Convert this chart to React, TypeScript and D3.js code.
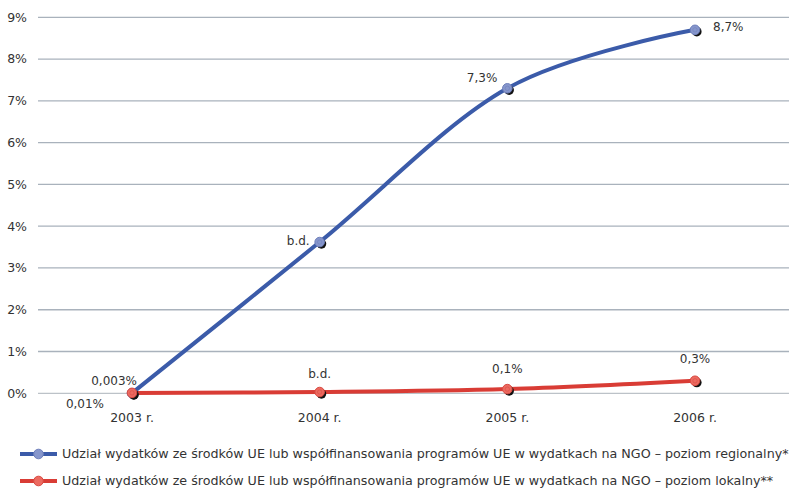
import React from "react";
import * as d3 from "d3";

const years = ["2003 r.", "2004 r.", "2005 r.", "2006 r."];
const regionalValues = [0.003, 3.62, 7.3, 8.7];
const localValues = [0.01, 0.03, 0.1, 0.3];
const regionalLabels = ["0,003%", "b.d.", "7,3%", "8,7%"];
const localLabels = ["0,01%", "b.d.", "0,1%", "0,3%"];
const yTicks = [0, 1, 2, 3, 4, 5, 6, 7, 8, 9];
const seriesNames = [
  "Udział wydatków ze środków UE lub współfinansowania programów UE w wydatkach na NGO – poziom regionalny*",
  "Udział wydatków ze środków UE lub współfinansowania programów UE w wydatkach na NGO – poziom lokalny**",
];

const W = 793;
const H = 488;
const FONT = "'DejaVu Sans', Verdana, sans-serif";
const BLUE = "#3b5ba9";
const BLUE_LIGHT = "#8696cc";
const RED = "#d93c35";
const RED_LIGHT = "#ec6a60";
const TEXT = "#333";

export default function App() {
  const x = d3.scalePoint<string>().domain(years).range([132, 695]);
  const y = d3.scaleLinear().domain([0, 9]).range([393.3, 17.3]);

  const line = d3
    .line<number>()
    .x((_, i) => x(years[i]) as number)
    .y((d) => y(d))
    .curve(d3.curveCatmullRom.alpha(0));

  // label offsets relative to each point: [dx, dy, anchor]
  const regionalOffsets: [number, number, string][] = [
    [5, -8, "end"],
    [-10, 3, "end"],
    [-10, -6, "end"],
    [18, 1, "start"],
  ];
  const localOffsets: [number, number, string][] = [
    [-28, 15, "end"],
    [0, -14, "middle"],
    [0, -16, "middle"],
    [0, -18, "middle"],
  ];

  const marker = (cx: number, cy: number, fill: string, ring: string, key: string) => (
    <g key={key}>
      <circle cx={cx + 1.8} cy={cy + 1.8} r={4.8} fill="#111" />
      <circle cx={cx} cy={cy} r={4.8} fill={fill} stroke={ring} strokeWidth={1} />
      <circle cx={cx} cy={cy} r={2.2} fill="none" stroke={ring} strokeWidth={0.8} opacity={0.7} />
    </g>
  );

  return (
    <svg
      width={W}
      height={H}
      style={{ position: "absolute", left: 0, top: 0, background: "#fff" }}
      fontFamily={FONT}
    >
      {yTicks.map((t) => (
        <g key={t}>
          <line x1={38} x2={789} y1={y(t)} y2={y(t)} stroke={t === 0 ? "#bcc2c8" : "#a9b2bc"} strokeWidth={1.3} />
          <text x={27} y={y(t)} dy="0.35em" textAnchor="end" fontSize={12.5} fill={TEXT}>
            {t}%
          </text>
        </g>
      ))}
      {years.map((yr) => (
        <text key={yr} x={x(yr)} y={422} textAnchor="middle" fontSize={12.5} fill={TEXT}>
          {yr}
        </text>
      ))}

      <path d={line(regionalValues) || ""} fill="none" stroke={BLUE} strokeWidth={4} />
      <path d={line(localValues) || ""} fill="none" stroke={RED} strokeWidth={4} />

      {regionalValues.map((v, i) => marker(x(years[i]) as number, y(v), BLUE_LIGHT, "#6f80bb", "rm" + i))}
      {localValues.map((v, i) => marker(x(years[i]) as number, y(v), RED_LIGHT, "#d84a42", "lm" + i))}

      {regionalValues.map((v, i) => (
        <text
          key={"rl" + i}
          x={(x(years[i]) as number) + regionalOffsets[i][0]}
          y={y(v) + regionalOffsets[i][1]}
          textAnchor={regionalOffsets[i][2] as any}
          fontSize={12}
          fill={TEXT}
        >
          {regionalLabels[i]}
        </text>
      ))}
      {localValues.map((v, i) => (
        <text
          key={"ll" + i}
          x={(x(years[i]) as number) + localOffsets[i][0]}
          y={y(v) + localOffsets[i][1]}
          textAnchor={localOffsets[i][2] as any}
          fontSize={12}
          fill={TEXT}
        >
          {localLabels[i]}
        </text>
      ))}

      {seriesNames.map((name, i) => {
        const ly = 454 + i * 27;
        const c = i === 0 ? BLUE : RED;
        const lc = i === 0 ? BLUE_LIGHT : RED_LIGHT;
        return (
          <g key={name}>
            <line x1={20} x2={57} y1={ly} y2={ly} stroke={c} strokeWidth={4} />
            <circle cx={38.5} cy={ly} r={4.8} fill={lc} stroke={i === 0 ? "#6f80bb" : "#d84a42"} />
            <text x={62} y={ly} dy="0.35em" fontSize={12.7} fill={TEXT}>
              {name}
            </text>
          </g>
        );
      })}
    </svg>
  );
}
